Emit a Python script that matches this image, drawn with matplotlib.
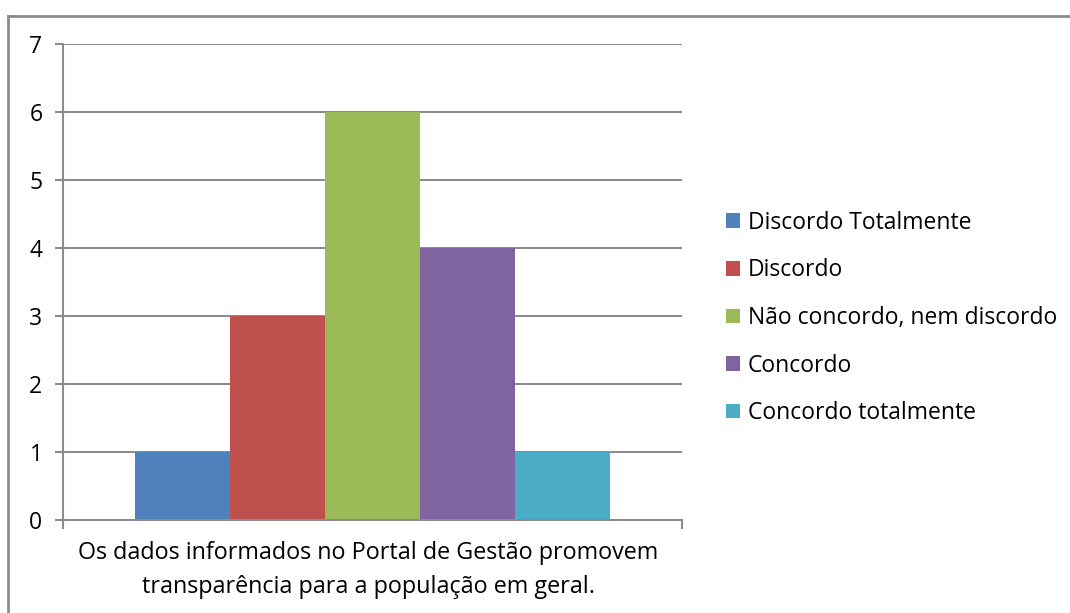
import matplotlib
matplotlib.use("Agg")
import matplotlib.pyplot as plt
from matplotlib.lines import Line2D
from matplotlib.patches import Patch

categories = ["Discordo Totalmente", "Discordo", "Não concordo, nem discordo",
              "Concordo", "Concordo totalmente"]
values = [1, 3, 6, 4, 1]
colors = ["#4F81BD", "#C0504D", "#9BBB59", "#8064A2", "#4BACC6"]
xlabel = "Os dados informados no Portal de Gestão promovem\ntransparência para a população em geral."
yticks = [0, 1, 2, 3, 4, 5, 6, 7]

plt.rcParams['font.family'] = ['Open Sans', 'DejaVu Sans']
FS = 16.5
W, H = 1070, 613
fig = plt.figure(figsize=(W/100, H/100), dpi=100)
ax = fig.add_axes([63/W, 1-520/H, 619/W, 476/H])

grid_c = "#8C8C8C"
bw = 95/619
n = len(values)
for i, (v, c, lab) in enumerate(zip(values, colors, categories)):
    x = 0.5 + (i - (n-1)/2) * bw
    ax.bar(x, v, width=bw, color=c, label=lab, zorder=3, linewidth=0)

ax.set_xlim(0, 1)
ax.set_ylim(0, 7)
ax.set_yticks(yticks)
ax.set_yticklabels([str(t) for t in yticks], fontsize=FS)
ax.set_xticks([])
for t in yticks[1:]:
    ax.axhline(t, color=grid_c, lw=1.5, zorder=1)
for s in ["top", "right"]:
    ax.spines[s].set_visible(False)
for s in ["left", "bottom"]:
    ax.spines[s].set_color(grid_c)
    ax.spines[s].set_linewidth(1.5)
ax.spines["bottom"].set_zorder(4)
ax.tick_params(axis='y', length=5.8, width=1.5, color=grid_c, pad=9, labelcolor="black")

# end tick marks on the category axis
for px in [63, 682]:
    fig.add_artist(Line2D([px/W, px/W], [1-520/H, 1-528/H], color=grid_c, lw=1.5))

fig.text(368/W, 1-570/H, xlabel, ha='center', va='center', fontsize=FS*1.02, linespacing=1.6)

handles = [Patch(facecolor=c, edgecolor='none') for c in colors]
fig.legend(handles, categories, loc='center left', bbox_to_anchor=(726/W, 1-318/H),
           frameon=False, fontsize=FS, handlelength=0.61, handleheight=0.61,
           handletextpad=0.35, labelspacing=1.03, borderaxespad=0, borderpad=0)

# outer border (left and top visible)
fig.add_artist(Line2D([7.5/W, 7.5/W], [0, 1-15.5/H], color="#8C8C8C", lw=2))
fig.add_artist(Line2D([7.5/W, 1], [1-15.5/H, 1-15.5/H], color="#8C8C8C", lw=2))

fig.savefig("out.png", dpi=100, facecolor="white")
